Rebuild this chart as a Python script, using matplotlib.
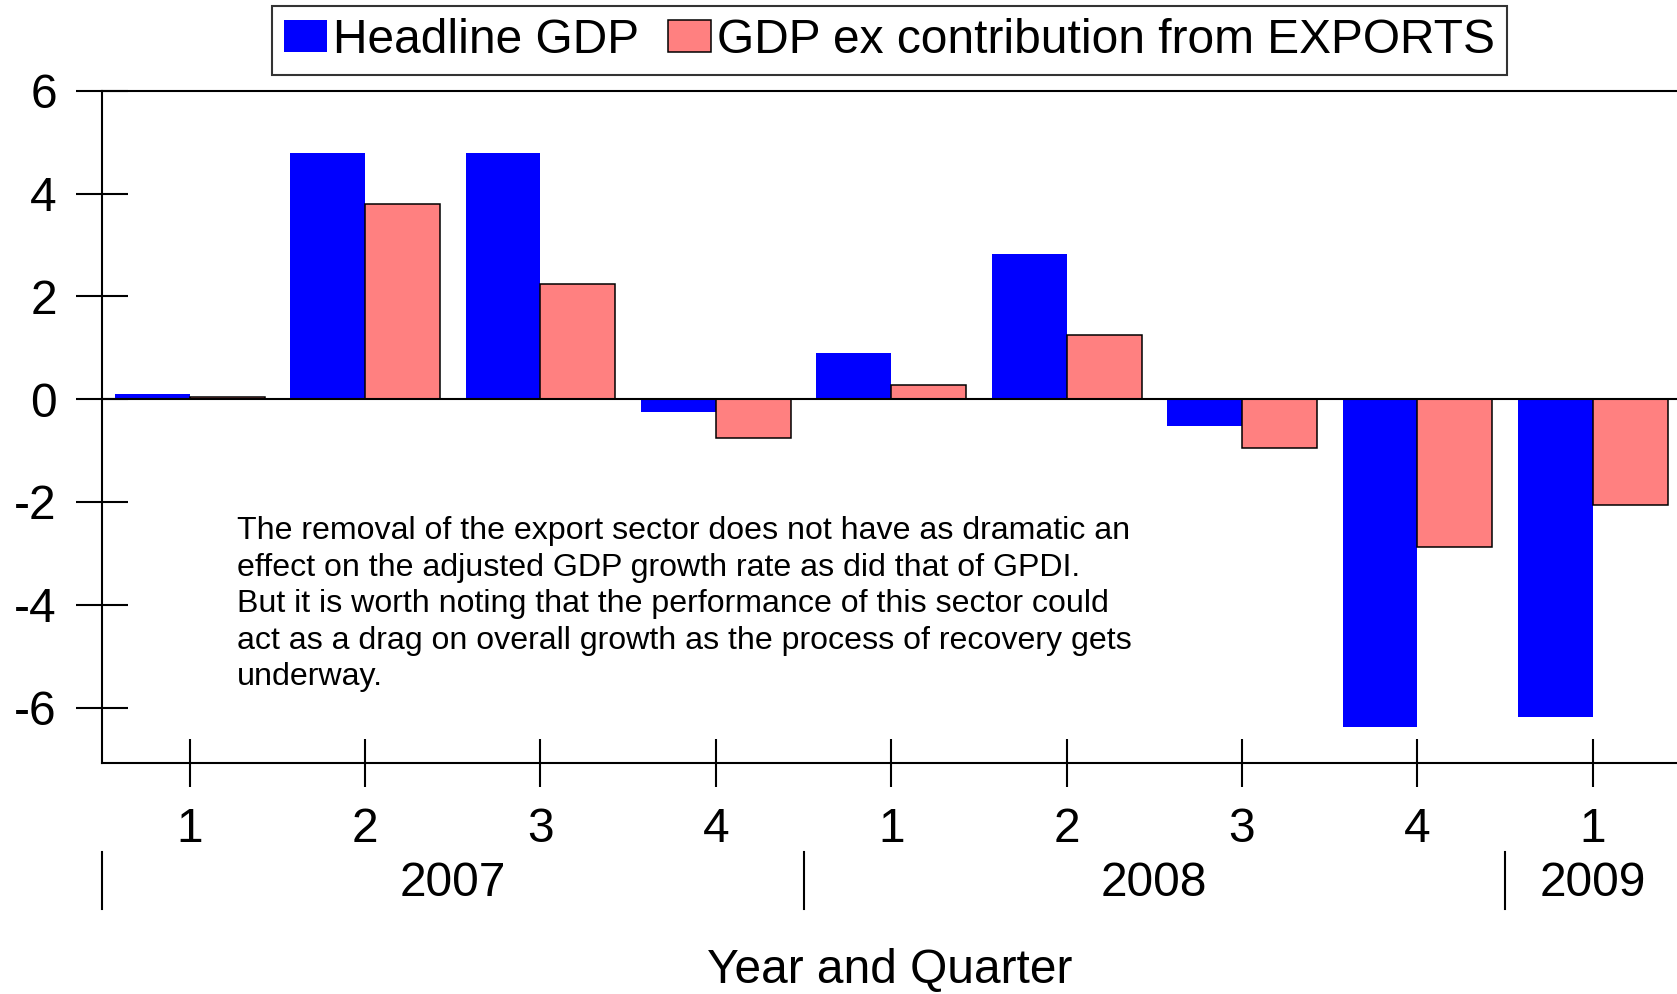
import matplotlib
matplotlib.use("Agg")
import matplotlib.pyplot as plt
import numpy as np
from matplotlib.patches import Patch

plt.rcParams.update({
    "font.family": ["Liberation Sans", "DejaVu Sans"],
    "axes.unicode_minus": False,
})

# --- data ---
quarters = ["1", "2", "3", "4", "1", "2", "3", "4", "1"]
years = ["2007", "2008", "2009"]
year_spans = [(0, 3), (4, 7), (8, 8)]          # first/last quarter index per year
headline = [0.1, 4.8, 4.8, -0.25, 0.9, 2.82, -0.52, -6.38, -6.18]
ex_exports = [0.05, 3.8, 2.25, -0.75, 0.27, 1.25, -0.94, -2.88, -2.06]
yticks = [-6, -4, -2, 0, 2, 4, 6]

note = ("The removal of the export sector does not have as dramatic an\n"
        "effect on the adjusted GDP growth rate as did that of GPDI.\n"
        "But it is worth noting that the performance of this sector could\n"
        "act as a drag on overall growth as the process of recovery gets\n"
        "underway.")

BLUE = "#0000FF"
SALMON = "#FF8080"
BIG = 34.5

fig = plt.figure(figsize=(16.77, 9.94), dpi=100)
ax = fig.add_axes([0.0608, 0.2324, 0.9392, 0.6761])

x = np.arange(len(quarters))
w = 0.427
ax.bar(x - w / 2, headline, w, color=BLUE, edgecolor="none", zorder=2)
ax.bar(x + w / 2, ex_exports, w, color=SALMON, edgecolor="black",
       linewidth=1.1, zorder=2)
ax.axhline(0, color="black", linewidth=1.5, zorder=3)

ax.set_xlim(-0.5, 8.48)
ax.set_ylim(-7.08, 6)
ax.set_yticks(yticks)
ax.set_yticklabels([str(v) for v in yticks])
ax.set_xticks(x)
ax.set_xticklabels(quarters)

for s in ("left", "bottom", "top"):
    ax.spines[s].set_linewidth(1.5)
ax.spines["right"].set_visible(False)
ax.tick_params(axis="y", direction="inout", length=37, width=1.5,
               labelsize=BIG, pad=14)
ax.tick_params(axis="x", direction="inout", length=35, width=1.5,
               labelsize=BIG, pad=14)

# year row with separators
trans = ax.get_xaxis_transform()
for yr, (a, b) in zip(years, year_spans):
    ax.text((a + b) / 2, -0.180, yr, transform=trans, ha="center",
            va="center", fontsize=BIG)
for sep in [-0.5, 3.5, 7.5]:
    ax.plot([sep, sep], [-0.1324, -0.2173], transform=trans, color="black",
            linewidth=1.5, clip_on=False)

ax.text(0.5, -0.309, "Year and Quarter", transform=ax.transAxes,
        ha="center", va="center", fontsize=34.5)

ax.text(0.0857, 0.367, note, transform=ax.transAxes, ha="left", va="top",
        fontsize=23.1, linespacing=1.28)

handles = [Patch(facecolor=BLUE, edgecolor="none"),
           Patch(facecolor=SALMON, edgecolor="black", linewidth=1.1)]
leg = fig.legend(handles, ["Headline GDP", "GDP ex contribution from EXPORTS"],
                 loc="upper center", bbox_to_anchor=(0.5304, 0.994), ncol=2,
                 fontsize=BIG, frameon=True, fancybox=False,
                 handlelength=0.9, handleheight=0.65, handletextpad=0.12,
                 columnspacing=0.6, borderpad=0.25, borderaxespad=0)
leg.get_frame().set_edgecolor("black")
leg.get_frame().set_linewidth(1.5)

fig.savefig("out.png", dpi=100)
